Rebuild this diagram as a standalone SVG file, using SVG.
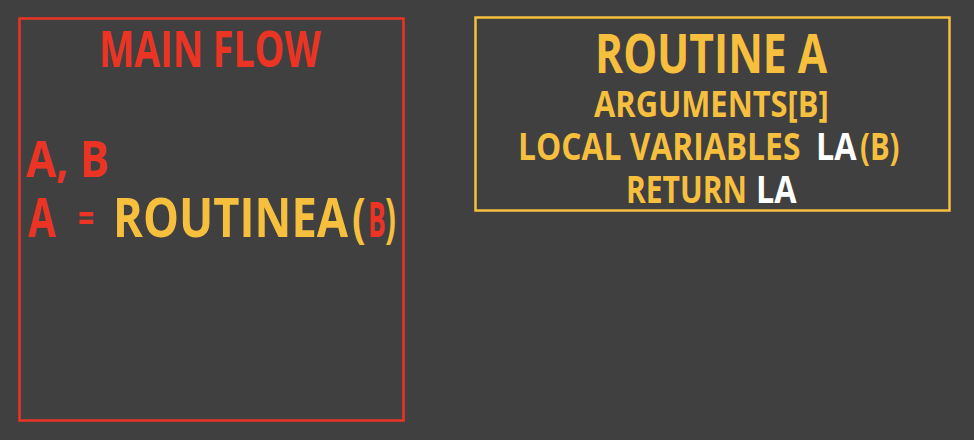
<svg xmlns="http://www.w3.org/2000/svg" width="974" height="440" viewBox="0 0 974 440">
<style>
.t{font-family:"Open Sans","Liberation Sans",sans-serif;font-weight:bold}
.r{fill:#ec3424}
.y{fill:#f6bf3e}
.w{fill:#ffffff}
</style>
<rect width="974" height="440" fill="#404040"/>
<g id="main-flow">
<rect x="19.5" y="18.5" width="384" height="402" fill="none" stroke="#ec3424" stroke-width="2.5"/>
<text class="t r" font-size="50" transform="translate(99 67) scale(0.75 1)">MAIN FLOW</text>
<text class="t r" font-size="50" transform="translate(26 177) scale(0.87 1)">A, B</text>
<text class="t r" font-size="54" transform="translate(28 237) scale(0.74 1)">A</text>
<text class="t r" font-size="40" transform="translate(78 232) scale(0.7 1)">=</text>
<text class="t y" font-size="54" transform="translate(113 237) scale(0.84 1)">ROUTINEA</text>
<text class="t y" font-size="54" transform="translate(352 237) scale(0.75 1)">(</text>
<text class="t r" font-size="48" transform="translate(368 237) scale(0.55 1)">B</text>
<text class="t y" font-size="54" transform="translate(385 237) scale(0.6 1)">)</text>
</g>
<g id="routine-a">
<rect x="475.5" y="17.5" width="474" height="193" fill="none" stroke="#f6bf3e" stroke-width="2.5"/>
<text class="t y" font-size="54" transform="translate(595 73) scale(0.79 1)">ROUTINE A</text>
<text class="t y" font-size="36" transform="translate(594 117) scale(0.857 1)">ARGUMENTS[B]</text>
<text class="t y" font-size="38" transform="translate(518 160) scale(0.837 1)">LOCAL VARIABLES</text>
<text class="t w" font-size="38" transform="translate(816 160) scale(0.85 1)">LA</text>
<text class="t y" font-size="38" transform="translate(860 160) scale(0.77 1)">(B)</text>
<text class="t y" font-size="38" transform="translate(626 203) scale(0.79 1)">RETURN</text>
<text class="t w" font-size="38" transform="translate(756 203) scale(0.85 1)">LA</text>
</g>
<g id="connectors"/>
</svg>
